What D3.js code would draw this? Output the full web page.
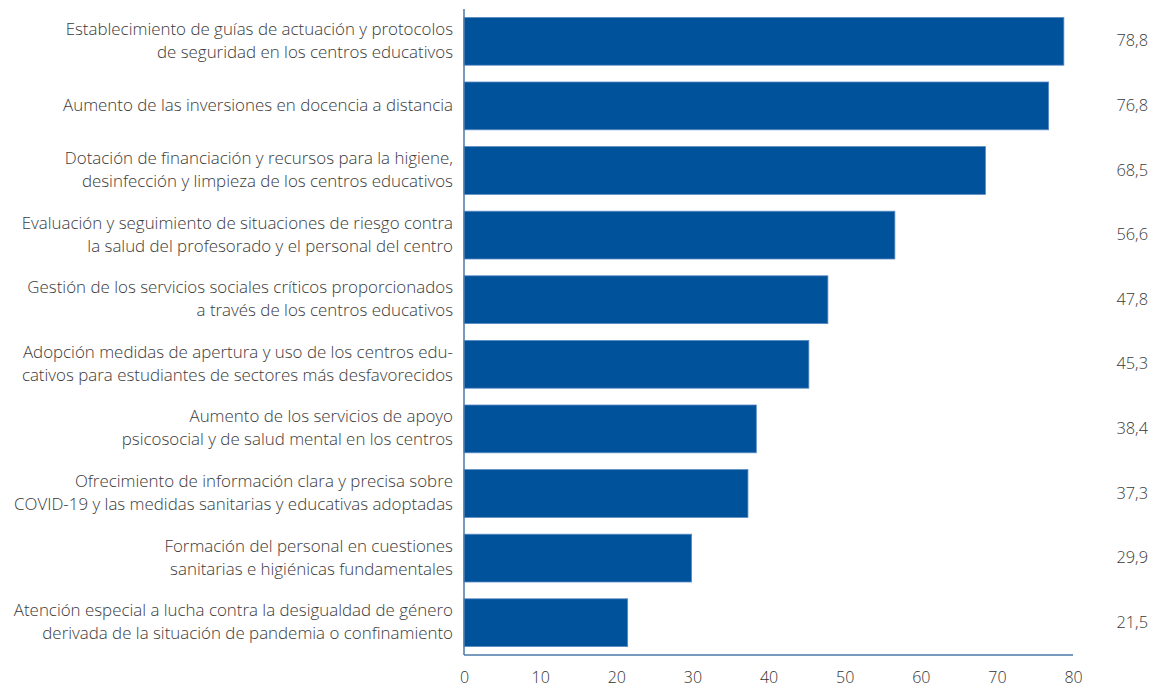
<!DOCTYPE html>
<html>
<head>
<meta charset="utf-8">
<script src="https://cdn.jsdelivr.net/npm/d3@7"></script>
<style>
  body { margin: 0; background: #fff; }
  svg { display: block; font-family: "Open Sans", sans-serif; }
</style>
</head>
<body>
<svg id="chart" width="1156" height="690"></svg>
<script>
// Measures, each label split into its printed lines
const categories = [
  ["Establecimiento de guías de actuación y protocolos", "de seguridad en los centros educativos"],
  ["Aumento de las inversiones en docencia a distancia"],
  ["Dotación de financiación y recursos para la higiene,", "desinfección y limpieza de los centros educativos"],
  ["Evaluación y seguimiento de situaciones de riesgo contra", "la salud del profesorado y el personal del centro"],
  ["Gestión de los servicios sociales críticos proporcionados", "a través de los centros educativos"],
  ["Adopción medidas de apertura y uso de los centros edu-", "cativos para estudiantes de sectores más desfavorecidos"],
  ["Aumento de los servicios de apoyo", "psicosocial y de salud mental en los centros"],
  ["Ofrecimiento de información clara y precisa sobre", "COVID-19 y las medidas sanitarias y educativas adoptadas"],
  ["Formación del personal en cuestiones", "sanitarias e higiénicas fundamentales"],
  ["Atención especial a lucha contra la desigualdad de género", "derivada de la situación de pandemia o confinamiento"]
];
const values = [78.8, 76.8, 68.5, 56.6, 47.8, 45.3, 38.4, 37.3, 29.9, 21.5];
const xTicks = [0, 10, 20, 30, 40, 50, 60, 70, 80];

const svg = d3.select("#chart");
const plotLeft = 464, plotRight = 1073, plotTop = 9, plotBottom = 655;

const x = d3.scaleLinear().domain([0, 80]).range([plotLeft, plotRight]);
const y = d3.scaleBand().domain(d3.range(values.length)).range([plotTop, plotBottom]).paddingInner(0.26).paddingOuter(0.13);

const fmt = v => v.toFixed(1).replace(".", ",");

// Bars
svg.append("g").selectAll("rect")
  .data(values)
  .join("rect")
  .attr("x", x(0))
  .attr("y", (d, i) => y(i))
  .attr("width", d => x(d) - x(0))
  .attr("height", y.bandwidth())
  .attr("fill", "#00529b")
  .attr("stroke", "#5b8cc4")
  .attr("stroke-width", 0.8);

// Axis lines
svg.append("line")
  .attr("x1", plotLeft).attr("x2", plotLeft).attr("y1", plotTop).attr("y2", plotBottom)
  .attr("stroke", "#4a78a8").attr("stroke-width", 1.5);
svg.append("line")
  .attr("x1", plotLeft).attr("x2", plotRight).attr("y1", plotBottom).attr("y2", plotBottom)
  .attr("stroke", "#4a78a8").attr("stroke-width", 1.5);

// Bottom tick labels
const xAxis = d3.axisBottom(x).tickValues(xTicks).tickSize(0).tickPadding(17);
const gx = svg.append("g").attr("transform", `translate(0,${plotBottom})`).call(xAxis);
gx.select(".domain").remove();
gx.selectAll("text")
  .attr("font-size", 16)
  .attr("font-weight", 300)
  .attr("fill", "#333")
  .attr("font-family", "Open Sans, sans-serif");

// Category labels
const lineH = 23;
const lab = svg.append("g").selectAll("text")
  .data(categories)
  .join("text")
  .attr("text-anchor", "end")
  .attr("font-size", 16.9)
  .attr("font-weight", 300)
  .attr("fill", "#3a3a3a")
  .attr("x", 453)
  .attr("y", (d, i) => y(i) + y.bandwidth() / 2 - (d.length - 1) * lineH / 2 + 5);
lab.selectAll("tspan")
  .data(d => d)
  .join("tspan")
  .attr("x", 453)
  .attr("dy", (d, j) => j === 0 ? 0 : lineH)
  .text(d => d);

// Value labels
svg.append("g").selectAll("text")
  .data(values)
  .join("text")
  .attr("text-anchor", "end")
  .attr("font-size", 16.4)
  .attr("font-weight", 300)
  .attr("fill", "#3a3a3a")
  .attr("x", 1148)
  .attr("y", (d, i) => y(i) + y.bandwidth() / 2 + 5)
  .text(d => fmt(d));
</script>
</body>
</html>
